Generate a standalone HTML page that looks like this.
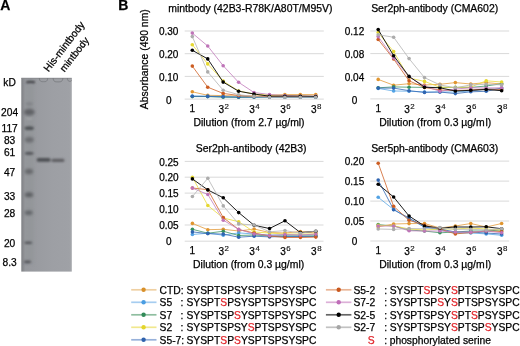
<!DOCTYPE html>
<html><head><meta charset="utf-8"><style>
html,body{margin:0;padding:0;background:#fff;}
body{width:520px;height:346px;overflow:hidden;}
svg{display:block;will-change:transform;}
svg text{font-family:"Liberation Sans", sans-serif;stroke:#000;stroke-width:0.25px;}
svg text.r, svg tspan.r{fill:#e0242a;stroke:#e0242a;}
</style></head><body>
<svg width="520" height="346" viewBox="0 0 520 346">

<defs>
<filter id="b1" x="-50%" y="-100%" width="200%" height="300%"><feGaussianBlur stdDeviation="0.8"/></filter>
<filter id="b2" x="-50%" y="-100%" width="200%" height="300%"><feGaussianBlur stdDeviation="1.5"/></filter>
<filter id="b3" x="-50%" y="-50%" width="200%" height="200%"><feGaussianBlur stdDeviation="0.6"/></filter>
<linearGradient id="gl" x1="0" x2="1" y1="0" y2="0">
<stop offset="0" stop-color="#7e8084"/><stop offset="0.04" stop-color="#8a8c90"/><stop offset="0.08" stop-color="#96989d"/><stop offset="0.6" stop-color="#9d9fa4"/><stop offset="0.95" stop-color="#9fa1a6"/><stop offset="1" stop-color="#a6a8ac"/>
</linearGradient>
<clipPath id="gc"><rect x="21.3" y="77.8" width="50.5" height="193.8"/></clipPath>
</defs>
<rect x="21.3" y="77.8" width="50.5" height="193.8" fill="url(#gl)"/>
<g clip-path="url(#gc)">
<rect x="21.3" y="77.8" width="50.5" height="1" fill="#8a8c90" filter="url(#b3)"/>
<g filter="url(#b3)" fill="none" stroke="#76787c" stroke-width="0.8">
<path d="M39.3 78 C39.6 81.4 40.8 81.7 43.5 81.7 C46.3 81.7 47.4 81.4 47.7 78"/>
<path d="M53.1 78 C53.4 81.6 54.8 81.9 58 81.9 C61.2 81.9 62.6 81.6 62.9 78"/>
<path d="M67.3 78 C67.6 81 68.5 81.3 70.3 81.3 C71.3 81.3 71.8 80.6 71.9 79.5"/>
</g>
<rect x="25" y="84" width="9" height="180" fill="#929498" opacity="0.6" filter="url(#b2)"/>
<g filter="url(#b1)">
<path d="M26.2 81.2 Q30.5 80.4 35 81.2 L35 83.2 Q30.5 82.6 26.2 83.2 Z" fill="#3c3d40"/>
<rect x="36.6" y="158.0" width="14" height="3.8" rx="1.9" fill="#4e4f53"/>
<rect x="51.5" y="158.8" width="13" height="3.2" rx="1.6" fill="#5e5f63"/>
<ellipse cx="29.2" cy="128.2" rx="4.7" ry="1.9" fill="#505256"/>
<ellipse cx="29.2" cy="153.3" rx="4.5" ry="1.6" fill="#55575b"/>
<ellipse cx="28.3" cy="242.8" rx="4" ry="1.3" fill="#55575b"/>
<ellipse cx="27.5" cy="261.9" rx="3.6" ry="1.3" fill="#55575b"/>
<ellipse cx="29.2" cy="118.6" rx="3.5" ry="0.6" fill="#b0b2b5"/>
</g>
<g filter="url(#b2)">
<ellipse cx="29.3" cy="112.2" rx="5.4" ry="3.4" fill="#606266"/>
<ellipse cx="29.3" cy="104" rx="3.6" ry="1.4" fill="#7c7e82"/>
<ellipse cx="29.3" cy="139.8" rx="4.5" ry="2.8" fill="#6a6c70"/>
<ellipse cx="29" cy="171.5" rx="4.2" ry="2.8" fill="#66686c"/>
<ellipse cx="29" cy="194.8" rx="4.2" ry="2.5" fill="#5c5e62"/>
<ellipse cx="28.7" cy="212.8" rx="4" ry="2.2" fill="#616367"/>
</g>
</g>

<text x="0.20" y="9.80" font-size="14" text-anchor="start" fill="#000" font-weight="bold" >A</text>
<text x="118.20" y="9.80" font-size="14" text-anchor="start" fill="#000" font-weight="bold" >B</text>
<line x1="184.7" y1="31.0" x2="323.8" y2="31.0" stroke="#d9d9d9" stroke-width="1"/>
<line x1="184.7" y1="53.7" x2="323.8" y2="53.7" stroke="#d9d9d9" stroke-width="1"/>
<line x1="184.7" y1="76.4" x2="323.8" y2="76.4" stroke="#d9d9d9" stroke-width="1"/>
<line x1="184.7" y1="99.1" x2="323.8" y2="99.1" stroke="#d9d9d9" stroke-width="1"/>
<text x="168.70" y="35.10" font-size="10" text-anchor="middle" fill="#000" font-weight="normal" >0.30</text>
<text x="168.70" y="58.15" font-size="10" text-anchor="middle" fill="#000" font-weight="normal" >0.20</text>
<text x="168.70" y="81.20" font-size="10" text-anchor="middle" fill="#000" font-weight="normal" >0.10</text>
<text x="168.70" y="104.25" font-size="10" text-anchor="middle" fill="#000" font-weight="normal" >0</text>
<text x="192.30" y="111.90" font-size="10" text-anchor="middle" fill="#000" font-weight="normal" >1</text>
<text x="218.41" y="112.70" font-size="10">3</text>
<text x="224.46" y="109.30" font-size="7.9" fill="#222" style="stroke-width:0.15px">2</text>
<text x="249.27" y="112.70" font-size="10">3</text>
<text x="255.32" y="109.30" font-size="7.9" fill="#222" style="stroke-width:0.15px">4</text>
<text x="280.13" y="112.70" font-size="10">3</text>
<text x="286.18" y="109.30" font-size="7.9" fill="#222" style="stroke-width:0.15px">6</text>
<text x="310.99" y="112.70" font-size="10">3</text>
<text x="317.04" y="109.30" font-size="7.9" fill="#222" style="stroke-width:0.15px">8</text>
<text x="193.50" y="126.20" font-size="10.4" text-anchor="start" fill="#000" font-weight="normal" >Dilution (from 2.7 µg/ml)</text>
<text x="250.40" y="12.00" font-size="10.45" text-anchor="middle" fill="#000" font-weight="normal" >mintbody (42B3-R78K/A80T/M95V)</text>
<polyline points="192.30,91.80 207.73,95.30 223.16,95.60 238.59,96.00 254.02,96.00 269.45,95.50 284.88,94.60 300.31,94.60 315.74,94.60" fill="none" stroke="#e39a3a" stroke-width="0.8"/>
<circle cx="192.30" cy="91.80" r="1.8" fill="#e0952f"/>
<circle cx="207.73" cy="95.30" r="1.8" fill="#e0952f"/>
<circle cx="223.16" cy="95.60" r="1.8" fill="#e0952f"/>
<circle cx="238.59" cy="96.00" r="1.8" fill="#e0952f"/>
<circle cx="254.02" cy="96.00" r="1.8" fill="#e0952f"/>
<circle cx="269.45" cy="95.50" r="1.8" fill="#e0952f"/>
<circle cx="284.88" cy="94.60" r="1.8" fill="#e0952f"/>
<circle cx="300.31" cy="94.60" r="1.8" fill="#e0952f"/>
<circle cx="315.74" cy="94.60" r="1.8" fill="#e0952f"/>
<polyline points="192.30,96.00 207.73,96.20 223.16,96.60 238.59,97.30 254.02,97.30 269.45,97.30 284.88,97.30 300.31,97.30 315.74,97.30" fill="none" stroke="#5aa7e6" stroke-width="0.8"/>
<circle cx="192.30" cy="96.00" r="1.8" fill="#52a2e4"/>
<circle cx="207.73" cy="96.20" r="1.8" fill="#52a2e4"/>
<circle cx="223.16" cy="96.60" r="1.8" fill="#52a2e4"/>
<circle cx="238.59" cy="97.30" r="1.8" fill="#52a2e4"/>
<circle cx="254.02" cy="97.30" r="1.8" fill="#52a2e4"/>
<circle cx="269.45" cy="97.30" r="1.8" fill="#52a2e4"/>
<circle cx="284.88" cy="97.30" r="1.8" fill="#52a2e4"/>
<circle cx="300.31" cy="97.30" r="1.8" fill="#52a2e4"/>
<circle cx="315.74" cy="97.30" r="1.8" fill="#52a2e4"/>
<polyline points="192.30,96.60 207.73,96.60 223.16,97.20 238.59,97.30 254.02,97.00 269.45,97.00 284.88,97.00 300.31,97.00 315.74,97.00" fill="none" stroke="#3f9466" stroke-width="0.8"/>
<circle cx="192.30" cy="96.60" r="1.8" fill="#35905d"/>
<circle cx="207.73" cy="96.60" r="1.8" fill="#35905d"/>
<circle cx="223.16" cy="97.20" r="1.8" fill="#35905d"/>
<circle cx="238.59" cy="97.30" r="1.8" fill="#35905d"/>
<circle cx="254.02" cy="97.00" r="1.8" fill="#35905d"/>
<circle cx="269.45" cy="97.00" r="1.8" fill="#35905d"/>
<circle cx="284.88" cy="97.00" r="1.8" fill="#35905d"/>
<circle cx="300.31" cy="97.00" r="1.8" fill="#35905d"/>
<circle cx="315.74" cy="97.00" r="1.8" fill="#35905d"/>
<polyline points="192.30,44.70 207.73,63.90 223.16,81.00 238.59,91.00 254.02,94.00 269.45,95.00 284.88,95.50 300.31,96.00 315.74,96.00" fill="none" stroke="#eadc3a" stroke-width="0.8"/>
<circle cx="192.30" cy="44.70" r="1.8" fill="#e6d830"/>
<circle cx="207.73" cy="63.90" r="1.8" fill="#e6d830"/>
<circle cx="223.16" cy="81.00" r="1.8" fill="#e6d830"/>
<circle cx="238.59" cy="91.00" r="1.8" fill="#e6d830"/>
<circle cx="254.02" cy="94.00" r="1.8" fill="#e6d830"/>
<circle cx="269.45" cy="95.00" r="1.8" fill="#e6d830"/>
<circle cx="284.88" cy="95.50" r="1.8" fill="#e6d830"/>
<circle cx="300.31" cy="96.00" r="1.8" fill="#e6d830"/>
<circle cx="315.74" cy="96.00" r="1.8" fill="#e6d830"/>
<polyline points="192.30,96.30 207.73,96.40 223.16,96.80 238.59,97.00 254.02,97.00 269.45,97.00 284.88,97.00 300.31,97.00 315.74,97.00" fill="none" stroke="#3468b4" stroke-width="0.8"/>
<circle cx="192.30" cy="96.30" r="1.8" fill="#2f64b0"/>
<circle cx="207.73" cy="96.40" r="1.8" fill="#2f64b0"/>
<circle cx="223.16" cy="96.80" r="1.8" fill="#2f64b0"/>
<circle cx="238.59" cy="97.00" r="1.8" fill="#2f64b0"/>
<circle cx="254.02" cy="97.00" r="1.8" fill="#2f64b0"/>
<circle cx="269.45" cy="97.00" r="1.8" fill="#2f64b0"/>
<circle cx="284.88" cy="97.00" r="1.8" fill="#2f64b0"/>
<circle cx="300.31" cy="97.00" r="1.8" fill="#2f64b0"/>
<circle cx="315.74" cy="97.00" r="1.8" fill="#2f64b0"/>
<polyline points="192.30,66.10 207.73,87.20 223.16,93.40 238.59,95.50 254.02,96.50 269.45,96.50 284.88,96.50 300.31,96.50 315.74,96.50" fill="none" stroke="#cf6227" stroke-width="0.8"/>
<circle cx="192.30" cy="66.10" r="1.8" fill="#cc5d22"/>
<circle cx="207.73" cy="87.20" r="1.8" fill="#cc5d22"/>
<circle cx="223.16" cy="93.40" r="1.8" fill="#cc5d22"/>
<circle cx="238.59" cy="95.50" r="1.8" fill="#cc5d22"/>
<circle cx="254.02" cy="96.50" r="1.8" fill="#cc5d22"/>
<circle cx="269.45" cy="96.50" r="1.8" fill="#cc5d22"/>
<circle cx="284.88" cy="96.50" r="1.8" fill="#cc5d22"/>
<circle cx="300.31" cy="96.50" r="1.8" fill="#cc5d22"/>
<circle cx="315.74" cy="96.50" r="1.8" fill="#cc5d22"/>
<polyline points="192.30,33.10 207.73,46.00 223.16,65.70 238.59,82.30 254.02,92.50 269.45,94.50 284.88,95.50 300.31,96.00 315.74,96.00" fill="none" stroke="#c27bbb" stroke-width="0.8"/>
<circle cx="192.30" cy="33.10" r="1.8" fill="#bf74b8"/>
<circle cx="207.73" cy="46.00" r="1.8" fill="#bf74b8"/>
<circle cx="223.16" cy="65.70" r="1.8" fill="#bf74b8"/>
<circle cx="238.59" cy="82.30" r="1.8" fill="#bf74b8"/>
<circle cx="254.02" cy="92.50" r="1.8" fill="#bf74b8"/>
<circle cx="269.45" cy="94.50" r="1.8" fill="#bf74b8"/>
<circle cx="284.88" cy="95.50" r="1.8" fill="#bf74b8"/>
<circle cx="300.31" cy="96.00" r="1.8" fill="#bf74b8"/>
<circle cx="315.74" cy="96.00" r="1.8" fill="#bf74b8"/>
<polyline points="192.30,50.30 207.73,58.90 223.16,82.10 238.59,91.20 254.02,94.00 269.45,96.20 284.88,96.20 300.31,96.20 315.74,96.50" fill="none" stroke="#111111" stroke-width="0.95"/>
<circle cx="192.30" cy="50.30" r="1.8" fill="#000000"/>
<circle cx="207.73" cy="58.90" r="1.8" fill="#000000"/>
<circle cx="223.16" cy="82.10" r="1.8" fill="#000000"/>
<circle cx="238.59" cy="91.20" r="1.8" fill="#000000"/>
<circle cx="254.02" cy="94.00" r="1.8" fill="#000000"/>
<circle cx="269.45" cy="96.20" r="1.8" fill="#000000"/>
<circle cx="284.88" cy="96.20" r="1.8" fill="#000000"/>
<circle cx="300.31" cy="96.20" r="1.8" fill="#000000"/>
<circle cx="315.74" cy="96.50" r="1.8" fill="#000000"/>
<polyline points="192.30,36.60 207.73,71.90 223.16,90.20 238.59,94.70 254.02,96.40 269.45,97.30 284.88,97.20 300.31,97.20 315.74,97.20" fill="none" stroke="#b4b4b4" stroke-width="0.8"/>
<circle cx="192.30" cy="36.60" r="1.8" fill="#acacac"/>
<circle cx="207.73" cy="71.90" r="1.8" fill="#acacac"/>
<circle cx="223.16" cy="90.20" r="1.8" fill="#acacac"/>
<circle cx="238.59" cy="94.70" r="1.8" fill="#acacac"/>
<circle cx="254.02" cy="96.40" r="1.8" fill="#acacac"/>
<circle cx="269.45" cy="97.30" r="1.8" fill="#acacac"/>
<circle cx="284.88" cy="97.20" r="1.8" fill="#acacac"/>
<circle cx="300.31" cy="97.20" r="1.8" fill="#acacac"/>
<circle cx="315.74" cy="97.20" r="1.8" fill="#acacac"/>
<line x1="370.3" y1="31.0" x2="509.2" y2="31.0" stroke="#d9d9d9" stroke-width="1"/>
<line x1="370.3" y1="53.6" x2="509.2" y2="53.6" stroke="#d9d9d9" stroke-width="1"/>
<line x1="370.3" y1="76.4" x2="509.2" y2="76.4" stroke="#d9d9d9" stroke-width="1"/>
<line x1="370.3" y1="98.9" x2="509.2" y2="98.9" stroke="#d9d9d9" stroke-width="1"/>
<text x="354.50" y="35.10" font-size="10" text-anchor="middle" fill="#000" font-weight="normal" >0.12</text>
<text x="354.50" y="58.05" font-size="10" text-anchor="middle" fill="#000" font-weight="normal" >0.08</text>
<text x="354.50" y="81.20" font-size="10" text-anchor="middle" fill="#000" font-weight="normal" >0.04</text>
<text x="354.50" y="104.05" font-size="10" text-anchor="middle" fill="#000" font-weight="normal" >0</text>
<text x="378.20" y="111.90" font-size="10" text-anchor="middle" fill="#000" font-weight="normal" >1</text>
<text x="404.31" y="112.70" font-size="10">3</text>
<text x="410.36" y="109.30" font-size="7.9" fill="#222" style="stroke-width:0.15px">2</text>
<text x="435.17" y="112.70" font-size="10">3</text>
<text x="441.22" y="109.30" font-size="7.9" fill="#222" style="stroke-width:0.15px">4</text>
<text x="466.03" y="112.70" font-size="10">3</text>
<text x="472.08" y="109.30" font-size="7.9" fill="#222" style="stroke-width:0.15px">6</text>
<text x="496.89" y="112.70" font-size="10">3</text>
<text x="502.94" y="109.30" font-size="7.9" fill="#222" style="stroke-width:0.15px">8</text>
<text x="379.30" y="126.20" font-size="10.4" text-anchor="start" fill="#000" font-weight="normal" >Dilution (from 0.3 µg/m<tspan dx="0.9">l)</tspan></text>
<text x="434.70" y="12.00" font-size="10.45" text-anchor="middle" fill="#000" font-weight="normal" >Ser2ph-antibody (CMA602)</text>
<polyline points="378.20,79.40 393.63,85.20 409.06,83.70 424.49,85.00 439.92,84.30 455.35,82.60 470.78,84.00 486.21,82.60 501.64,84.00" fill="none" stroke="#e39a3a" stroke-width="0.8"/>
<circle cx="378.20" cy="79.40" r="1.8" fill="#e0952f"/>
<circle cx="393.63" cy="85.20" r="1.8" fill="#e0952f"/>
<circle cx="409.06" cy="83.70" r="1.8" fill="#e0952f"/>
<circle cx="424.49" cy="85.00" r="1.8" fill="#e0952f"/>
<circle cx="439.92" cy="84.30" r="1.8" fill="#e0952f"/>
<circle cx="455.35" cy="82.60" r="1.8" fill="#e0952f"/>
<circle cx="470.78" cy="84.00" r="1.8" fill="#e0952f"/>
<circle cx="486.21" cy="82.60" r="1.8" fill="#e0952f"/>
<circle cx="501.64" cy="84.00" r="1.8" fill="#e0952f"/>
<polyline points="378.20,88.40 393.63,91.00 409.06,91.20 424.49,92.00 439.92,92.00 455.35,92.00 470.78,91.00 486.21,89.00 501.64,89.00" fill="none" stroke="#5aa7e6" stroke-width="0.8"/>
<circle cx="378.20" cy="88.40" r="1.8" fill="#52a2e4"/>
<circle cx="393.63" cy="91.00" r="1.8" fill="#52a2e4"/>
<circle cx="409.06" cy="91.20" r="1.8" fill="#52a2e4"/>
<circle cx="424.49" cy="92.00" r="1.8" fill="#52a2e4"/>
<circle cx="439.92" cy="92.00" r="1.8" fill="#52a2e4"/>
<circle cx="455.35" cy="92.00" r="1.8" fill="#52a2e4"/>
<circle cx="470.78" cy="91.00" r="1.8" fill="#52a2e4"/>
<circle cx="486.21" cy="89.00" r="1.8" fill="#52a2e4"/>
<circle cx="501.64" cy="89.00" r="1.8" fill="#52a2e4"/>
<polyline points="378.20,87.80 393.63,86.90 409.06,87.20 424.49,87.40 439.92,87.40 455.35,87.40 470.78,87.40 486.21,86.00 501.64,83.70" fill="none" stroke="#3f9466" stroke-width="0.8"/>
<circle cx="378.20" cy="87.80" r="1.8" fill="#35905d"/>
<circle cx="393.63" cy="86.90" r="1.8" fill="#35905d"/>
<circle cx="409.06" cy="87.20" r="1.8" fill="#35905d"/>
<circle cx="424.49" cy="87.40" r="1.8" fill="#35905d"/>
<circle cx="439.92" cy="87.40" r="1.8" fill="#35905d"/>
<circle cx="455.35" cy="87.40" r="1.8" fill="#35905d"/>
<circle cx="470.78" cy="87.40" r="1.8" fill="#35905d"/>
<circle cx="486.21" cy="86.00" r="1.8" fill="#35905d"/>
<circle cx="501.64" cy="83.70" r="1.8" fill="#35905d"/>
<polyline points="378.20,32.50 393.63,51.60 409.06,78.00 424.49,81.40 439.92,87.20 455.35,87.50 470.78,87.00 486.21,80.80 501.64,82.00" fill="none" stroke="#eadc3a" stroke-width="0.8"/>
<circle cx="378.20" cy="32.50" r="1.8" fill="#e6d830"/>
<circle cx="393.63" cy="51.60" r="1.8" fill="#e6d830"/>
<circle cx="409.06" cy="78.00" r="1.8" fill="#e6d830"/>
<circle cx="424.49" cy="81.40" r="1.8" fill="#e6d830"/>
<circle cx="439.92" cy="87.20" r="1.8" fill="#e6d830"/>
<circle cx="455.35" cy="87.50" r="1.8" fill="#e6d830"/>
<circle cx="470.78" cy="87.00" r="1.8" fill="#e6d830"/>
<circle cx="486.21" cy="80.80" r="1.8" fill="#e6d830"/>
<circle cx="501.64" cy="82.00" r="1.8" fill="#e6d830"/>
<polyline points="378.20,88.10 393.63,88.10 409.06,90.70 424.49,92.40 439.92,92.00 455.35,93.60 470.78,91.80 486.21,91.30 501.64,88.00" fill="none" stroke="#3468b4" stroke-width="0.8"/>
<circle cx="378.20" cy="88.10" r="1.8" fill="#2f64b0"/>
<circle cx="393.63" cy="88.10" r="1.8" fill="#2f64b0"/>
<circle cx="409.06" cy="90.70" r="1.8" fill="#2f64b0"/>
<circle cx="424.49" cy="92.40" r="1.8" fill="#2f64b0"/>
<circle cx="439.92" cy="92.00" r="1.8" fill="#2f64b0"/>
<circle cx="455.35" cy="93.60" r="1.8" fill="#2f64b0"/>
<circle cx="470.78" cy="91.80" r="1.8" fill="#2f64b0"/>
<circle cx="486.21" cy="91.30" r="1.8" fill="#2f64b0"/>
<circle cx="501.64" cy="88.00" r="1.8" fill="#2f64b0"/>
<polyline points="378.20,39.50 393.63,59.00 409.06,80.80 424.49,87.50 439.92,90.00 455.35,90.50 470.78,90.00 486.21,89.00 501.64,89.50" fill="none" stroke="#cf6227" stroke-width="0.8"/>
<circle cx="378.20" cy="39.50" r="1.8" fill="#cc5d22"/>
<circle cx="393.63" cy="59.00" r="1.8" fill="#cc5d22"/>
<circle cx="409.06" cy="80.80" r="1.8" fill="#cc5d22"/>
<circle cx="424.49" cy="87.50" r="1.8" fill="#cc5d22"/>
<circle cx="439.92" cy="90.00" r="1.8" fill="#cc5d22"/>
<circle cx="455.35" cy="90.50" r="1.8" fill="#cc5d22"/>
<circle cx="470.78" cy="90.00" r="1.8" fill="#cc5d22"/>
<circle cx="486.21" cy="89.00" r="1.8" fill="#cc5d22"/>
<circle cx="501.64" cy="89.50" r="1.8" fill="#cc5d22"/>
<polyline points="378.20,36.60 393.63,58.00 409.06,77.00 424.49,86.00 439.92,91.30 455.35,89.00 470.78,87.80 486.21,88.00 501.64,87.80" fill="none" stroke="#c27bbb" stroke-width="0.8"/>
<circle cx="378.20" cy="36.60" r="1.8" fill="#bf74b8"/>
<circle cx="393.63" cy="58.00" r="1.8" fill="#bf74b8"/>
<circle cx="409.06" cy="77.00" r="1.8" fill="#bf74b8"/>
<circle cx="424.49" cy="86.00" r="1.8" fill="#bf74b8"/>
<circle cx="439.92" cy="91.30" r="1.8" fill="#bf74b8"/>
<circle cx="455.35" cy="89.00" r="1.8" fill="#bf74b8"/>
<circle cx="470.78" cy="87.80" r="1.8" fill="#bf74b8"/>
<circle cx="486.21" cy="88.00" r="1.8" fill="#bf74b8"/>
<circle cx="501.64" cy="87.80" r="1.8" fill="#bf74b8"/>
<polyline points="378.20,29.60 393.63,55.70 409.06,76.40 424.49,87.20 439.92,87.80 455.35,91.00 470.78,90.30 486.21,89.50 501.64,90.70" fill="none" stroke="#111111" stroke-width="0.95"/>
<circle cx="378.20" cy="29.60" r="1.8" fill="#000000"/>
<circle cx="393.63" cy="55.70" r="1.8" fill="#000000"/>
<circle cx="409.06" cy="76.40" r="1.8" fill="#000000"/>
<circle cx="424.49" cy="87.20" r="1.8" fill="#000000"/>
<circle cx="439.92" cy="87.80" r="1.8" fill="#000000"/>
<circle cx="455.35" cy="91.00" r="1.8" fill="#000000"/>
<circle cx="470.78" cy="90.30" r="1.8" fill="#000000"/>
<circle cx="486.21" cy="89.50" r="1.8" fill="#000000"/>
<circle cx="501.64" cy="90.70" r="1.8" fill="#000000"/>
<polyline points="378.20,34.80 393.63,37.20 409.06,58.60 424.49,77.60 439.92,84.90 455.35,87.80 470.78,84.90 486.21,84.30 501.64,84.90" fill="none" stroke="#b4b4b4" stroke-width="0.8"/>
<circle cx="378.20" cy="34.80" r="1.8" fill="#acacac"/>
<circle cx="393.63" cy="37.20" r="1.8" fill="#acacac"/>
<circle cx="409.06" cy="58.60" r="1.8" fill="#acacac"/>
<circle cx="424.49" cy="77.60" r="1.8" fill="#acacac"/>
<circle cx="439.92" cy="84.90" r="1.8" fill="#acacac"/>
<circle cx="455.35" cy="87.80" r="1.8" fill="#acacac"/>
<circle cx="470.78" cy="84.90" r="1.8" fill="#acacac"/>
<circle cx="486.21" cy="84.30" r="1.8" fill="#acacac"/>
<circle cx="501.64" cy="84.90" r="1.8" fill="#acacac"/>
<line x1="184.7" y1="161.4" x2="323.5" y2="161.4" stroke="#d9d9d9" stroke-width="1"/>
<line x1="184.7" y1="177.2" x2="323.5" y2="177.2" stroke="#d9d9d9" stroke-width="1"/>
<line x1="184.7" y1="193.1" x2="323.5" y2="193.1" stroke="#d9d9d9" stroke-width="1"/>
<line x1="184.7" y1="209.1" x2="323.5" y2="209.1" stroke="#d9d9d9" stroke-width="1"/>
<line x1="184.7" y1="225.0" x2="323.5" y2="225.0" stroke="#d9d9d9" stroke-width="1"/>
<line x1="184.7" y1="241.2" x2="323.5" y2="241.2" stroke="#d9d9d9" stroke-width="1"/>
<text x="168.90" y="165.60" font-size="10" text-anchor="middle" fill="#000" font-weight="normal" >0.25</text>
<text x="168.90" y="181.40" font-size="10" text-anchor="middle" fill="#000" font-weight="normal" >0.20</text>
<text x="168.90" y="197.30" font-size="10" text-anchor="middle" fill="#000" font-weight="normal" >0.15</text>
<text x="168.90" y="213.30" font-size="10" text-anchor="middle" fill="#000" font-weight="normal" >0.10</text>
<text x="168.90" y="229.20" font-size="10" text-anchor="middle" fill="#000" font-weight="normal" >0.05</text>
<text x="168.90" y="245.40" font-size="10" text-anchor="middle" fill="#000" font-weight="normal" >0</text>
<text x="192.40" y="253.80" font-size="10" text-anchor="middle" fill="#000" font-weight="normal" >1</text>
<text x="218.51" y="254.60" font-size="10">3</text>
<text x="224.56" y="251.20" font-size="7.9" fill="#222" style="stroke-width:0.15px">2</text>
<text x="249.37" y="254.60" font-size="10">3</text>
<text x="255.42" y="251.20" font-size="7.9" fill="#222" style="stroke-width:0.15px">4</text>
<text x="280.23" y="254.60" font-size="10">3</text>
<text x="286.28" y="251.20" font-size="7.9" fill="#222" style="stroke-width:0.15px">6</text>
<text x="311.09" y="254.60" font-size="10">3</text>
<text x="317.14" y="251.20" font-size="7.9" fill="#222" style="stroke-width:0.15px">8</text>
<text x="193.10" y="268.40" font-size="10.4" text-anchor="start" fill="#000" font-weight="normal" >Dilution (from 0.3 µg/ml)</text>
<text x="251.10" y="151.60" font-size="10.45" text-anchor="middle" fill="#000" font-weight="normal" >Ser2ph-antibody (42B3)</text>
<polyline points="192.40,223.40 207.83,229.70 223.26,229.30 238.69,231.00 254.12,229.00 269.55,232.50 284.98,233.00 300.41,231.50 315.84,233.00" fill="none" stroke="#e39a3a" stroke-width="0.8"/>
<circle cx="192.40" cy="223.40" r="1.8" fill="#e0952f"/>
<circle cx="207.83" cy="229.70" r="1.8" fill="#e0952f"/>
<circle cx="223.26" cy="229.30" r="1.8" fill="#e0952f"/>
<circle cx="238.69" cy="231.00" r="1.8" fill="#e0952f"/>
<circle cx="254.12" cy="229.00" r="1.8" fill="#e0952f"/>
<circle cx="269.55" cy="232.50" r="1.8" fill="#e0952f"/>
<circle cx="284.98" cy="233.00" r="1.8" fill="#e0952f"/>
<circle cx="300.41" cy="231.50" r="1.8" fill="#e0952f"/>
<circle cx="315.84" cy="233.00" r="1.8" fill="#e0952f"/>
<polyline points="192.40,234.50 207.83,233.20 223.26,235.20 238.69,232.90 254.12,234.00 269.55,235.00 284.98,235.00 300.41,235.00 315.84,235.00" fill="none" stroke="#5aa7e6" stroke-width="0.8"/>
<circle cx="192.40" cy="234.50" r="1.8" fill="#52a2e4"/>
<circle cx="207.83" cy="233.20" r="1.8" fill="#52a2e4"/>
<circle cx="223.26" cy="235.20" r="1.8" fill="#52a2e4"/>
<circle cx="238.69" cy="232.90" r="1.8" fill="#52a2e4"/>
<circle cx="254.12" cy="234.00" r="1.8" fill="#52a2e4"/>
<circle cx="269.55" cy="235.00" r="1.8" fill="#52a2e4"/>
<circle cx="284.98" cy="235.00" r="1.8" fill="#52a2e4"/>
<circle cx="300.41" cy="235.00" r="1.8" fill="#52a2e4"/>
<circle cx="315.84" cy="235.00" r="1.8" fill="#52a2e4"/>
<polyline points="192.40,229.30 207.83,233.20 223.26,231.25 238.69,235.50 254.12,235.00 269.55,236.00 284.98,236.00 300.41,236.00 315.84,236.00" fill="none" stroke="#3f9466" stroke-width="0.8"/>
<circle cx="192.40" cy="229.30" r="1.8" fill="#35905d"/>
<circle cx="207.83" cy="233.20" r="1.8" fill="#35905d"/>
<circle cx="223.26" cy="231.25" r="1.8" fill="#35905d"/>
<circle cx="238.69" cy="235.50" r="1.8" fill="#35905d"/>
<circle cx="254.12" cy="235.00" r="1.8" fill="#35905d"/>
<circle cx="269.55" cy="236.00" r="1.8" fill="#35905d"/>
<circle cx="284.98" cy="236.00" r="1.8" fill="#35905d"/>
<circle cx="300.41" cy="236.00" r="1.8" fill="#35905d"/>
<circle cx="315.84" cy="236.00" r="1.8" fill="#35905d"/>
<polyline points="192.40,177.20 207.83,205.50 223.26,218.00 238.69,221.70 254.12,232.00 269.55,233.00 284.98,234.00 300.41,234.00 315.84,234.00" fill="none" stroke="#eadc3a" stroke-width="0.8"/>
<circle cx="192.40" cy="177.20" r="1.8" fill="#e6d830"/>
<circle cx="207.83" cy="205.50" r="1.8" fill="#e6d830"/>
<circle cx="223.26" cy="218.00" r="1.8" fill="#e6d830"/>
<circle cx="238.69" cy="221.70" r="1.8" fill="#e6d830"/>
<circle cx="254.12" cy="232.00" r="1.8" fill="#e6d830"/>
<circle cx="269.55" cy="233.00" r="1.8" fill="#e6d830"/>
<circle cx="284.98" cy="234.00" r="1.8" fill="#e6d830"/>
<circle cx="300.41" cy="234.00" r="1.8" fill="#e6d830"/>
<circle cx="315.84" cy="234.00" r="1.8" fill="#e6d830"/>
<polyline points="192.40,231.90 207.83,233.60 223.26,234.10 238.69,237.20 254.12,236.20 269.55,236.90 284.98,236.50 300.41,236.50 315.84,236.50" fill="none" stroke="#3468b4" stroke-width="0.8"/>
<circle cx="192.40" cy="231.90" r="1.8" fill="#2f64b0"/>
<circle cx="207.83" cy="233.60" r="1.8" fill="#2f64b0"/>
<circle cx="223.26" cy="234.10" r="1.8" fill="#2f64b0"/>
<circle cx="238.69" cy="237.20" r="1.8" fill="#2f64b0"/>
<circle cx="254.12" cy="236.20" r="1.8" fill="#2f64b0"/>
<circle cx="269.55" cy="236.90" r="1.8" fill="#2f64b0"/>
<circle cx="284.98" cy="236.50" r="1.8" fill="#2f64b0"/>
<circle cx="300.41" cy="236.50" r="1.8" fill="#2f64b0"/>
<circle cx="315.84" cy="236.50" r="1.8" fill="#2f64b0"/>
<polyline points="192.40,188.00 207.83,189.70 223.26,217.60 238.69,229.50 254.12,233.00 269.55,236.00 284.98,237.50 300.41,237.50 315.84,237.10" fill="none" stroke="#cf6227" stroke-width="0.8"/>
<circle cx="192.40" cy="188.00" r="1.8" fill="#cc5d22"/>
<circle cx="207.83" cy="189.70" r="1.8" fill="#cc5d22"/>
<circle cx="223.26" cy="217.60" r="1.8" fill="#cc5d22"/>
<circle cx="238.69" cy="229.50" r="1.8" fill="#cc5d22"/>
<circle cx="254.12" cy="233.00" r="1.8" fill="#cc5d22"/>
<circle cx="269.55" cy="236.00" r="1.8" fill="#cc5d22"/>
<circle cx="284.98" cy="237.50" r="1.8" fill="#cc5d22"/>
<circle cx="300.41" cy="237.50" r="1.8" fill="#cc5d22"/>
<circle cx="315.84" cy="237.10" r="1.8" fill="#cc5d22"/>
<polyline points="192.40,188.10 207.83,194.50 223.26,220.20 238.69,229.40 254.12,234.00 269.55,235.50 284.98,234.50 300.41,235.00 315.84,234.10" fill="none" stroke="#c27bbb" stroke-width="0.8"/>
<circle cx="192.40" cy="188.10" r="1.8" fill="#bf74b8"/>
<circle cx="207.83" cy="194.50" r="1.8" fill="#bf74b8"/>
<circle cx="223.26" cy="220.20" r="1.8" fill="#bf74b8"/>
<circle cx="238.69" cy="229.40" r="1.8" fill="#bf74b8"/>
<circle cx="254.12" cy="234.00" r="1.8" fill="#bf74b8"/>
<circle cx="269.55" cy="235.50" r="1.8" fill="#bf74b8"/>
<circle cx="284.98" cy="234.50" r="1.8" fill="#bf74b8"/>
<circle cx="300.41" cy="235.00" r="1.8" fill="#bf74b8"/>
<circle cx="315.84" cy="234.10" r="1.8" fill="#bf74b8"/>
<polyline points="192.40,178.90 207.83,189.90 223.26,197.80 238.69,212.60 254.12,225.30 269.55,228.50 284.98,220.80 300.41,232.60 315.84,231.25" fill="none" stroke="#111111" stroke-width="0.95"/>
<circle cx="192.40" cy="178.90" r="1.8" fill="#000000"/>
<circle cx="207.83" cy="189.90" r="1.8" fill="#000000"/>
<circle cx="223.26" cy="197.80" r="1.8" fill="#000000"/>
<circle cx="238.69" cy="212.60" r="1.8" fill="#000000"/>
<circle cx="254.12" cy="225.30" r="1.8" fill="#000000"/>
<circle cx="269.55" cy="228.50" r="1.8" fill="#000000"/>
<circle cx="284.98" cy="220.80" r="1.8" fill="#000000"/>
<circle cx="300.41" cy="232.60" r="1.8" fill="#000000"/>
<circle cx="315.84" cy="231.25" r="1.8" fill="#000000"/>
<polyline points="192.40,196.50 207.83,178.30 223.26,205.90 238.69,223.90 254.12,225.00 269.55,231.80 284.98,230.60 300.41,233.20 315.84,231.00" fill="none" stroke="#b4b4b4" stroke-width="0.8"/>
<circle cx="192.40" cy="196.50" r="1.8" fill="#acacac"/>
<circle cx="207.83" cy="178.30" r="1.8" fill="#acacac"/>
<circle cx="223.26" cy="205.90" r="1.8" fill="#acacac"/>
<circle cx="238.69" cy="223.90" r="1.8" fill="#acacac"/>
<circle cx="254.12" cy="225.00" r="1.8" fill="#acacac"/>
<circle cx="269.55" cy="231.80" r="1.8" fill="#acacac"/>
<circle cx="284.98" cy="230.60" r="1.8" fill="#acacac"/>
<circle cx="300.41" cy="233.20" r="1.8" fill="#acacac"/>
<circle cx="315.84" cy="231.00" r="1.8" fill="#acacac"/>
<line x1="370.3" y1="161.1" x2="509.2" y2="161.1" stroke="#d9d9d9" stroke-width="1"/>
<line x1="370.3" y1="181.1" x2="509.2" y2="181.1" stroke="#d9d9d9" stroke-width="1"/>
<line x1="370.3" y1="201.1" x2="509.2" y2="201.1" stroke="#d9d9d9" stroke-width="1"/>
<line x1="370.3" y1="221.0" x2="509.2" y2="221.0" stroke="#d9d9d9" stroke-width="1"/>
<line x1="370.3" y1="241.0" x2="509.2" y2="241.0" stroke="#d9d9d9" stroke-width="1"/>
<text x="354.50" y="165.30" font-size="10" text-anchor="middle" fill="#000" font-weight="normal" >0.20</text>
<text x="354.50" y="185.30" font-size="10" text-anchor="middle" fill="#000" font-weight="normal" >0.15</text>
<text x="354.50" y="205.30" font-size="10" text-anchor="middle" fill="#000" font-weight="normal" >0.10</text>
<text x="354.50" y="225.20" font-size="10" text-anchor="middle" fill="#000" font-weight="normal" >0.05</text>
<text x="354.50" y="245.20" font-size="10" text-anchor="middle" fill="#000" font-weight="normal" >0</text>
<text x="378.20" y="253.80" font-size="10" text-anchor="middle" fill="#000" font-weight="normal" >1</text>
<text x="404.31" y="254.60" font-size="10">3</text>
<text x="410.36" y="251.20" font-size="7.9" fill="#222" style="stroke-width:0.15px">2</text>
<text x="435.17" y="254.60" font-size="10">3</text>
<text x="441.22" y="251.20" font-size="7.9" fill="#222" style="stroke-width:0.15px">4</text>
<text x="466.03" y="254.60" font-size="10">3</text>
<text x="472.08" y="251.20" font-size="7.9" fill="#222" style="stroke-width:0.15px">6</text>
<text x="496.89" y="254.60" font-size="10">3</text>
<text x="502.94" y="251.20" font-size="7.9" fill="#222" style="stroke-width:0.15px">8</text>
<text x="379.30" y="268.40" font-size="10.4" text-anchor="start" fill="#000" font-weight="normal" >Dilution (from 0.3 µg/m<tspan dx="0.9">l)</tspan></text>
<text x="434.70" y="151.60" font-size="10.45" text-anchor="middle" fill="#000" font-weight="normal" >Ser5ph-antibody (CMA603)</text>
<polyline points="378.20,226.80 393.63,224.00 409.06,223.60 424.49,223.50 439.92,228.00 455.35,226.00 470.78,223.50 486.21,227.00 501.64,223.50" fill="none" stroke="#e39a3a" stroke-width="0.8"/>
<circle cx="378.20" cy="226.80" r="1.8" fill="#e0952f"/>
<circle cx="393.63" cy="224.00" r="1.8" fill="#e0952f"/>
<circle cx="409.06" cy="223.60" r="1.8" fill="#e0952f"/>
<circle cx="424.49" cy="223.50" r="1.8" fill="#e0952f"/>
<circle cx="439.92" cy="228.00" r="1.8" fill="#e0952f"/>
<circle cx="455.35" cy="226.00" r="1.8" fill="#e0952f"/>
<circle cx="470.78" cy="223.50" r="1.8" fill="#e0952f"/>
<circle cx="486.21" cy="227.00" r="1.8" fill="#e0952f"/>
<circle cx="501.64" cy="223.50" r="1.8" fill="#e0952f"/>
<polyline points="378.20,197.30 393.63,209.50 409.06,219.00 424.49,227.00 439.92,230.00 455.35,233.00 470.78,233.00 486.21,233.90 501.64,235.30" fill="none" stroke="#5aa7e6" stroke-width="0.8"/>
<circle cx="378.20" cy="197.30" r="1.8" fill="#52a2e4"/>
<circle cx="393.63" cy="209.50" r="1.8" fill="#52a2e4"/>
<circle cx="409.06" cy="219.00" r="1.8" fill="#52a2e4"/>
<circle cx="424.49" cy="227.00" r="1.8" fill="#52a2e4"/>
<circle cx="439.92" cy="230.00" r="1.8" fill="#52a2e4"/>
<circle cx="455.35" cy="233.00" r="1.8" fill="#52a2e4"/>
<circle cx="470.78" cy="233.00" r="1.8" fill="#52a2e4"/>
<circle cx="486.21" cy="233.90" r="1.8" fill="#52a2e4"/>
<circle cx="501.64" cy="235.30" r="1.8" fill="#52a2e4"/>
<polyline points="378.20,224.60 393.63,226.00 409.06,230.00 424.49,231.00 439.92,232.80 455.35,232.00 470.78,231.00 486.21,231.00 501.64,230.00" fill="none" stroke="#3f9466" stroke-width="0.8"/>
<circle cx="378.20" cy="224.60" r="1.8" fill="#35905d"/>
<circle cx="393.63" cy="226.00" r="1.8" fill="#35905d"/>
<circle cx="409.06" cy="230.00" r="1.8" fill="#35905d"/>
<circle cx="424.49" cy="231.00" r="1.8" fill="#35905d"/>
<circle cx="439.92" cy="232.80" r="1.8" fill="#35905d"/>
<circle cx="455.35" cy="232.00" r="1.8" fill="#35905d"/>
<circle cx="470.78" cy="231.00" r="1.8" fill="#35905d"/>
<circle cx="486.21" cy="231.00" r="1.8" fill="#35905d"/>
<circle cx="501.64" cy="230.00" r="1.8" fill="#35905d"/>
<polyline points="378.20,225.30 393.63,225.80 409.06,229.00 424.49,230.00 439.92,229.00 455.35,229.00 470.78,228.00 486.21,229.00 501.64,230.00" fill="none" stroke="#eadc3a" stroke-width="0.8"/>
<circle cx="378.20" cy="225.30" r="1.8" fill="#e6d830"/>
<circle cx="393.63" cy="225.80" r="1.8" fill="#e6d830"/>
<circle cx="409.06" cy="229.00" r="1.8" fill="#e6d830"/>
<circle cx="424.49" cy="230.00" r="1.8" fill="#e6d830"/>
<circle cx="439.92" cy="229.00" r="1.8" fill="#e6d830"/>
<circle cx="455.35" cy="229.00" r="1.8" fill="#e6d830"/>
<circle cx="470.78" cy="228.00" r="1.8" fill="#e6d830"/>
<circle cx="486.21" cy="229.00" r="1.8" fill="#e6d830"/>
<circle cx="501.64" cy="230.00" r="1.8" fill="#e6d830"/>
<polyline points="378.20,180.10 393.63,209.70 409.06,218.00 424.49,227.00 439.92,229.00 455.35,232.00 470.78,232.00 486.21,233.00 501.64,234.00" fill="none" stroke="#3468b4" stroke-width="0.8"/>
<circle cx="378.20" cy="180.10" r="1.8" fill="#2f64b0"/>
<circle cx="393.63" cy="209.70" r="1.8" fill="#2f64b0"/>
<circle cx="409.06" cy="218.00" r="1.8" fill="#2f64b0"/>
<circle cx="424.49" cy="227.00" r="1.8" fill="#2f64b0"/>
<circle cx="439.92" cy="229.00" r="1.8" fill="#2f64b0"/>
<circle cx="455.35" cy="232.00" r="1.8" fill="#2f64b0"/>
<circle cx="470.78" cy="232.00" r="1.8" fill="#2f64b0"/>
<circle cx="486.21" cy="233.00" r="1.8" fill="#2f64b0"/>
<circle cx="501.64" cy="234.00" r="1.8" fill="#2f64b0"/>
<polyline points="378.20,163.20 393.63,206.30 409.06,220.30 424.49,225.00 439.92,229.00 455.35,233.90 470.78,232.50 486.21,231.00 501.64,231.50" fill="none" stroke="#cf6227" stroke-width="0.8"/>
<circle cx="378.20" cy="163.20" r="1.8" fill="#cc5d22"/>
<circle cx="393.63" cy="206.30" r="1.8" fill="#cc5d22"/>
<circle cx="409.06" cy="220.30" r="1.8" fill="#cc5d22"/>
<circle cx="424.49" cy="225.00" r="1.8" fill="#cc5d22"/>
<circle cx="439.92" cy="229.00" r="1.8" fill="#cc5d22"/>
<circle cx="455.35" cy="233.90" r="1.8" fill="#cc5d22"/>
<circle cx="470.78" cy="232.50" r="1.8" fill="#cc5d22"/>
<circle cx="486.21" cy="231.00" r="1.8" fill="#cc5d22"/>
<circle cx="501.64" cy="231.50" r="1.8" fill="#cc5d22"/>
<polyline points="378.20,226.00 393.63,226.00 409.06,230.80 424.49,231.00 439.92,231.00 455.35,232.00 470.78,232.20 486.21,231.00 501.64,232.80" fill="none" stroke="#c27bbb" stroke-width="0.8"/>
<circle cx="378.20" cy="226.00" r="1.8" fill="#bf74b8"/>
<circle cx="393.63" cy="226.00" r="1.8" fill="#bf74b8"/>
<circle cx="409.06" cy="230.80" r="1.8" fill="#bf74b8"/>
<circle cx="424.49" cy="231.00" r="1.8" fill="#bf74b8"/>
<circle cx="439.92" cy="231.00" r="1.8" fill="#bf74b8"/>
<circle cx="455.35" cy="232.00" r="1.8" fill="#bf74b8"/>
<circle cx="470.78" cy="232.20" r="1.8" fill="#bf74b8"/>
<circle cx="486.21" cy="231.00" r="1.8" fill="#bf74b8"/>
<circle cx="501.64" cy="232.80" r="1.8" fill="#bf74b8"/>
<polyline points="378.20,184.30 393.63,197.00 409.06,216.00 424.49,226.00 439.92,228.10 455.35,227.00 470.78,227.00 486.21,226.80 501.64,228.70" fill="none" stroke="#111111" stroke-width="0.95"/>
<circle cx="378.20" cy="184.30" r="1.8" fill="#000000"/>
<circle cx="393.63" cy="197.00" r="1.8" fill="#000000"/>
<circle cx="409.06" cy="216.00" r="1.8" fill="#000000"/>
<circle cx="424.49" cy="226.00" r="1.8" fill="#000000"/>
<circle cx="439.92" cy="228.10" r="1.8" fill="#000000"/>
<circle cx="455.35" cy="227.00" r="1.8" fill="#000000"/>
<circle cx="470.78" cy="227.00" r="1.8" fill="#000000"/>
<circle cx="486.21" cy="226.80" r="1.8" fill="#000000"/>
<circle cx="501.64" cy="228.70" r="1.8" fill="#000000"/>
<polyline points="378.20,229.00 393.63,229.40 409.06,228.50 424.49,228.70 439.92,227.60 455.35,229.30 470.78,229.30 486.21,229.90 501.64,228.70" fill="none" stroke="#b4b4b4" stroke-width="0.8"/>
<circle cx="378.20" cy="229.00" r="1.8" fill="#acacac"/>
<circle cx="393.63" cy="229.40" r="1.8" fill="#acacac"/>
<circle cx="409.06" cy="228.50" r="1.8" fill="#acacac"/>
<circle cx="424.49" cy="228.70" r="1.8" fill="#acacac"/>
<circle cx="439.92" cy="227.60" r="1.8" fill="#acacac"/>
<circle cx="455.35" cy="229.30" r="1.8" fill="#acacac"/>
<circle cx="470.78" cy="229.30" r="1.8" fill="#acacac"/>
<circle cx="486.21" cy="229.90" r="1.8" fill="#acacac"/>
<circle cx="501.64" cy="228.70" r="1.8" fill="#acacac"/>
<text x="0" y="0" font-size="10.4" text-anchor="middle" transform="translate(148.2,59.2) rotate(-90)">Absorbance (490 nm)</text>
<line x1="131.2" y1="289.8" x2="156.5" y2="289.8" stroke="#efd0a2" stroke-width="1.7"/>
<circle cx="143.6" cy="289.8" r="2.2" fill="#d8902a"/>
<text x="159.6" y="293.7" font-size="10.3">CTD:</text>
<text x="186.5" y="293.7" font-size="10.3">SYSPTSPSYSPTSPSYSPC</text>
<line x1="131.2" y1="302.3" x2="156.5" y2="302.3" stroke="#a6cdf0" stroke-width="1.7"/>
<circle cx="143.6" cy="302.3" r="2.2" fill="#4a9de2"/>
<text x="159.6" y="306.2" font-size="10.3">S5</text>
<text x="180.6" y="306.2" font-size="10.3">:</text>
<text x="186.5" y="306.2" font-size="10.3">SYSPT<tspan class="r">S</tspan>PSYSPTSPSYSPC</text>
<line x1="131.2" y1="314.8" x2="156.5" y2="314.8" stroke="#8fbea0" stroke-width="1.7"/>
<circle cx="143.6" cy="314.8" r="2.2" fill="#318a58"/>
<text x="159.6" y="318.7" font-size="10.3">S7</text>
<text x="180.6" y="318.7" font-size="10.3">:</text>
<text x="186.5" y="318.7" font-size="10.3">SYSPTSP<tspan class="r">S</tspan>YSPTSPSYSPC</text>
<line x1="131.2" y1="327.3" x2="156.5" y2="327.3" stroke="#f1e88e" stroke-width="1.7"/>
<circle cx="143.6" cy="327.3" r="2.2" fill="#e3d52c"/>
<text x="159.6" y="331.2" font-size="10.3">S2</text>
<text x="180.6" y="331.2" font-size="10.3">:</text>
<text x="186.5" y="331.2" font-size="10.3">SYSPTSPSY<tspan class="r">S</tspan>PTSPSYSPC</text>
<line x1="131.2" y1="339.8" x2="156.5" y2="339.8" stroke="#97b1da" stroke-width="1.7"/>
<circle cx="143.6" cy="339.8" r="2.2" fill="#2f62ad"/>
<text x="159.6" y="343.7" font-size="10.3">S5-7:</text>
<text x="186.5" y="343.7" font-size="10.3">SYSPT<tspan class="r">S</tspan>P<tspan class="r">S</tspan>YSPTSPSYSPC</text>
<line x1="325.9" y1="289.8" x2="351.4" y2="289.8" stroke="#e9b596" stroke-width="1.7"/>
<circle cx="338.7" cy="289.8" r="2.2" fill="#c9581f"/>
<text x="353.4" y="293.7" font-size="10.3">S5-2</text>
<text x="384.3" y="293.7" font-size="10.3">:</text>
<text x="389.7" y="293.7" font-size="10.3">SYSPT<tspan class="r">S</tspan>PSY<tspan class="r">S</tspan>PTSPSYSPC</text>
<line x1="325.9" y1="302.3" x2="351.4" y2="302.3" stroke="#dcb0d8" stroke-width="1.7"/>
<circle cx="338.7" cy="302.3" r="2.2" fill="#bf6db8"/>
<text x="353.4" y="306.2" font-size="10.3">S7-2</text>
<text x="384.3" y="306.2" font-size="10.3">:</text>
<text x="389.7" y="306.2" font-size="10.3">SYSPTSP<tspan class="r">S</tspan>Y<tspan class="r">S</tspan>PTSPSYSPC</text>
<line x1="325.9" y1="314.8" x2="351.4" y2="314.8" stroke="#666666" stroke-width="1.7"/>
<circle cx="338.7" cy="314.8" r="2.2" fill="#000000"/>
<text x="353.4" y="318.7" font-size="10.3">S2-5</text>
<text x="384.3" y="318.7" font-size="10.3">:</text>
<text x="389.7" y="318.7" font-size="10.3">SYSPTSPSY<tspan class="r">S</tspan>PT<tspan class="r">S</tspan>PSYSPC</text>
<line x1="325.9" y1="327.3" x2="351.4" y2="327.3" stroke="#c2c2c2" stroke-width="1.7"/>
<circle cx="338.7" cy="327.3" r="2.2" fill="#a6a6a6"/>
<text x="353.4" y="331.2" font-size="10.3">S2-7</text>
<text x="384.3" y="331.2" font-size="10.3">:</text>
<text x="389.7" y="331.2" font-size="10.3">SYSPTSPSY<tspan class="r">S</tspan>PTSP<tspan class="r">S</tspan>YSPC</text>
<text x="367.8" y="343.7" font-size="10.3" class="r">S</text>
<text x="384.3" y="343.7" font-size="10.3">:</text>
<text x="389.7" y="343.7" font-size="10.3">phosphorylated serine</text>
<text x="9.60" y="85.60" font-size="10.2" text-anchor="middle" fill="#000" font-weight="normal" >kD</text>
<text x="9.60" y="116.00" font-size="10.2" text-anchor="middle" fill="#000" font-weight="normal" >204</text>
<text x="9.60" y="131.60" font-size="10.2" text-anchor="middle" fill="#000" font-weight="normal" >117</text>
<text x="9.60" y="143.60" font-size="10.2" text-anchor="middle" fill="#000" font-weight="normal" >83</text>
<text x="9.60" y="156.40" font-size="10.2" text-anchor="middle" fill="#000" font-weight="normal" >61</text>
<text x="9.60" y="175.80" font-size="10.2" text-anchor="middle" fill="#000" font-weight="normal" >47</text>
<text x="9.60" y="199.70" font-size="10.2" text-anchor="middle" fill="#000" font-weight="normal" >33</text>
<text x="9.60" y="217.00" font-size="10.2" text-anchor="middle" fill="#000" font-weight="normal" >28</text>
<text x="9.60" y="246.70" font-size="10.2" text-anchor="middle" fill="#000" font-weight="normal" >20</text>
<text x="9.60" y="265.90" font-size="10.2" text-anchor="middle" fill="#000" font-weight="normal" >8.3</text>
<text x="0" y="0" font-size="10.3" transform="translate(48.6,72.5) rotate(-52.5)">His-mintbody</text>
<text x="0" y="0" font-size="10" transform="translate(64.5,72.5) rotate(-52)">mintbody</text>
</svg>
</body></html>
